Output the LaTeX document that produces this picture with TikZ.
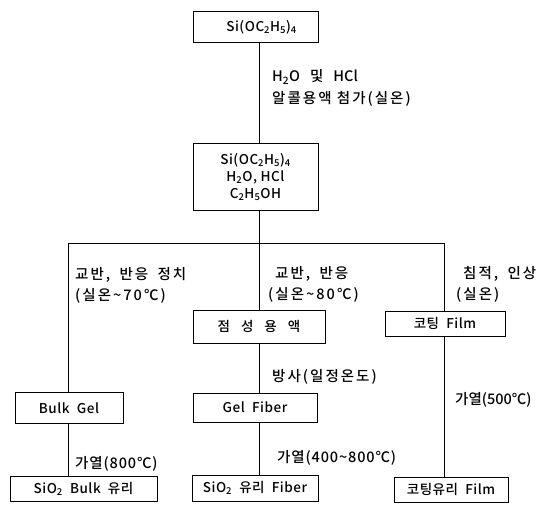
\documentclass[tikz,border=0pt]{standalone}
\usepackage{fontspec}
\IfFontExistsTF{Noto Sans CJK KR Medium}{\setmainfont{Noto Sans CJK KR Medium}}{\setmainfont{Noto Sans CJK KR}}
\newcommand{\sbs}[1]{\textsubscript{#1}}
\begin{document}
\begin{tikzpicture}[x=1pt,y=-1pt,
  box/.style={draw,line width=1pt,inner sep=0pt,align=center,font=\fontsize{13.5}{17}\selectfont\addfontfeature{LetterSpace=4}},
  lbl/.style={anchor=base west,inner sep=0pt,font=\fontsize{14.5}{15}\selectfont\addfontfeature{LetterSpace=14}},
  lblplain/.style={anchor=base west,inner sep=0pt,font=\fontsize{14.5}{15}\selectfont},
  lblmid/.style={anchor=base west,inner sep=0pt,font=\fontsize{14.5}{15}\selectfont\addfontfeature{LetterSpace=6}},
  conn/.style={line width=1pt}]
\useasboundingbox (0,0) rectangle (539,511);
% boxes
\node[box,minimum width=125,minimum height=31] (top) at (255.5,27.5) {\hspace*{12pt}Si(OC\sbs{2}H\sbs{5})\sbs{4}};
\node[box,minimum width=125,minimum height=66] (mix) at (255.5,177) {Si(OC\sbs{2}H\sbs{5})\sbs{4}\\H\sbs{2}O, HCl\\C\sbs{2}H\sbs{5}OH};
\node[box,minimum width=108,minimum height=31] (bulkgel) at (69,408) {Bulk\ \ Gel};
\node[box,minimum width=147,minimum height=25] (bulkglass) at (83.5,488.5) {SiO\sbs{2}\ \ Bulk\ \ 유리};
\node[box,minimum width=132,minimum height=33] (sol) at (259,326.5) {점\hspace{11pt}성\hspace{11pt}용\hspace{11pt}액};
\node[box,minimum width=124,minimum height=29] (gelfiber) at (255,407.5) {Gel\ \ Fiber};
\node[box,minimum width=126,minimum height=26] (fiber) at (255,488) {SiO\sbs{2}\ \ 유리\ \ Fiber};
\node[box,minimum width=120,minimum height=25] (coat) at (445,323.5) {코팅\ \ Film};
\node[box,minimum width=114,minimum height=25] (coatglass) at (451,489.5) {코팅유리\ \ Film};
% junctions
\coordinate (jL) at (68,243);
\coordinate (jM) at (259,243);
\coordinate (jR) at (444,243);
% connectors
\draw[conn] (top.south -| jM) -- (mix.north -| jM);
\draw[conn] (mix.south -| jM) -- (jM);
\draw[conn] (jL) -- (jR);
\draw[conn] (jL) -- (bulkgel.north -| jL);
\draw[conn] (jM) -- (sol.north -| jM);
\draw[conn] (jR) -- (coat.north -| jR);
\draw[conn] (bulkgel.south -| jL) -- (bulkglass.north -| jL);
\draw[conn] (sol.south -| jM) -- (gelfiber.north -| jM);
\draw[conn] (gelfiber.south -| jM) -- (fiber.north -| jM);
\draw[conn] (coat.south -| jR) -- (coatglass.north -| jR);
% labels
\node[lblplain] (l1) at (272,82) {H\sbs{2}O\hspace{10pt}및\hspace{10pt}HCl};
\node[lbl] (l2) at (272,103) {알콜용액 첨가(실온)};
\node[lbl] (l3) at (75,279) {교반,\hspace{4pt} 반응\hspace{4pt} 정치};
\node[lbl] (l4) at (75,300) {(실온\textasciitilde70℃)};
\node[lbl] (l5) at (275,278) {교반,\hspace{4pt} 반응};
\node[lbl] (l6) at (268,299) {(실온\textasciitilde80℃)};
\node[lbl] (l7) at (463,278) {침적,\hspace{4pt} 인상};
\node[lbl] (l8) at (456,299) {(실온)};
\node[lbl] (l9) at (272,381) {방사(일정온도)};
\node[lblplain] (l10) at (455,404) {가열(500℃)};
\node[lblmid] (l11) at (75,468) {가열(800℃)};
\node[lblmid] (l12) at (277,462) {가열(400\textasciitilde800℃)};
\end{tikzpicture}
\end{document}
